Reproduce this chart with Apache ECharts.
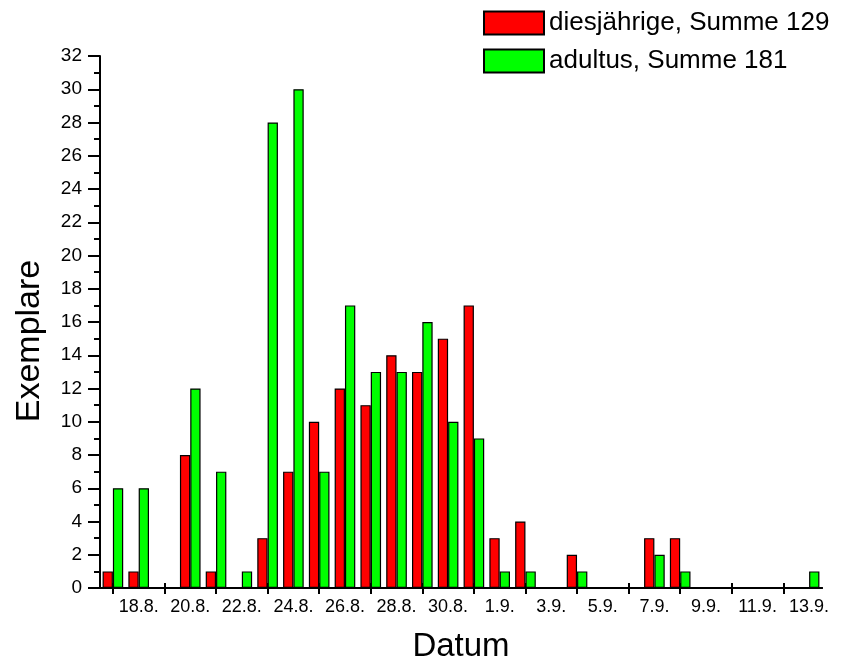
<!DOCTYPE html>
<html>
<head>
<meta charset="utf-8">
<script src="https://cdn.jsdelivr.net/npm/echarts@6/dist/echarts.min.js"></script>
<style>
html,body{margin:0;padding:0;background:#fff;}
#c{width:853px;height:669px;}
</style>
</head>
<body>
<div id="c"></div>
<script>
const categories = ["17.8.","18.8.","19.8.","20.8.","21.8.","22.8.","23.8.","24.8.","25.8.","26.8.","27.8.","28.8.","29.8.","30.8.","31.8.","1.9.","2.9.","3.9.","4.9.","5.9.","6.9.","7.9.","8.9.","9.9.","10.9.","11.9.","12.9.","13.9."];
const diesjaehrige = [1,1,0,8,1,0,3,7,10,12,11,14,13,15,17,3,4,0,2,0,0,3,3,0,0,0,0,0];
const adultus =      [6,6,0,12,7,1,28,30,7,17,13,13,16,10,9,1,1,0,1,0,0,2,1,0,0,0,0,1];
const seriesNames = ["diesjährige, Summe 129","adultus, Summe 181"];
const yTicks = {min:0, max:32, interval:2};

const chart = echarts.init(document.getElementById('c'), null, {renderer:'canvas'});
const font = 'Arial, "Liberation Sans", sans-serif';
const baseX = {
  type:'category', data:categories, boundaryGap:true,
  axisLine:{show:true, lineStyle:{color:'#000', width:2}},
  splitLine:{show:false}
};
chart.setOption({
  animation:false,
  backgroundColor:'#fff',
  grid:{left:100, right:31, top:56, bottom:81, containLabel:false},
  legend:{
    orient:'vertical', left:483, top:10, padding:0,
    itemWidth:60, itemHeight:23, itemGap:12,
    icon:'rect',
    textStyle:{fontFamily:font, fontSize:26, color:'#000'},
    data:seriesNames
  },
  xAxis:[
    Object.assign({}, baseX, {
      name:'Datum', nameLocation:'middle', nameGap:42,
      nameTextStyle:{fontFamily:font, fontSize:33, color:'#000'},
      axisTick:{show:true, alignWithLabel:true, interval:(i)=>i%2===0, length:6, lineStyle:{color:'#000', width:2}},
      axisLabel:{interval:(i)=>i%2===1, margin:10, fontFamily:font, fontSize:18, color:'#000'}
    }),
    Object.assign({}, baseX, {
      position:'bottom',
      axisTick:{show:true, inside:true, alignWithLabel:true, interval:(i)=>i%2===0, length:5, lineStyle:{color:'#000', width:2}},
      axisLabel:{show:false}
    })
  ],
  yAxis:{
    type:'value', min:yTicks.min, max:yTicks.max, interval:yTicks.interval,
    name:'Exemplare', nameLocation:'middle', nameGap:53, nameRotate:90,
    nameTextStyle:{fontFamily:font, fontSize:34, color:'#000', padding:[0,38,0,0]},
    axisLine:{show:true, lineStyle:{color:'#000', width:2}},
    axisTick:{show:true, length:12, lineStyle:{color:'#000', width:2}},
    minorTick:{show:true, splitNumber:2, length:6, lineStyle:{color:'#000', width:2}},
    axisLabel:{margin:18, fontFamily:font, fontSize:19, color:'#000'},
    splitLine:{show:false}
  },
  series:[
    {name:seriesNames[0], type:'bar', data:diesjaehrige, barGap:'0%', barCategoryGap:'20%',
     itemStyle:{color:'#ff0000', borderColor:'#000', borderWidth:1.2}},
    {name:seriesNames[1], type:'bar', data:adultus, barGap:'0%', barCategoryGap:'20%',
     itemStyle:{color:'#00ff00', borderColor:'#000', borderWidth:1.2}}
  ]
});
</script>
</body>
</html>
